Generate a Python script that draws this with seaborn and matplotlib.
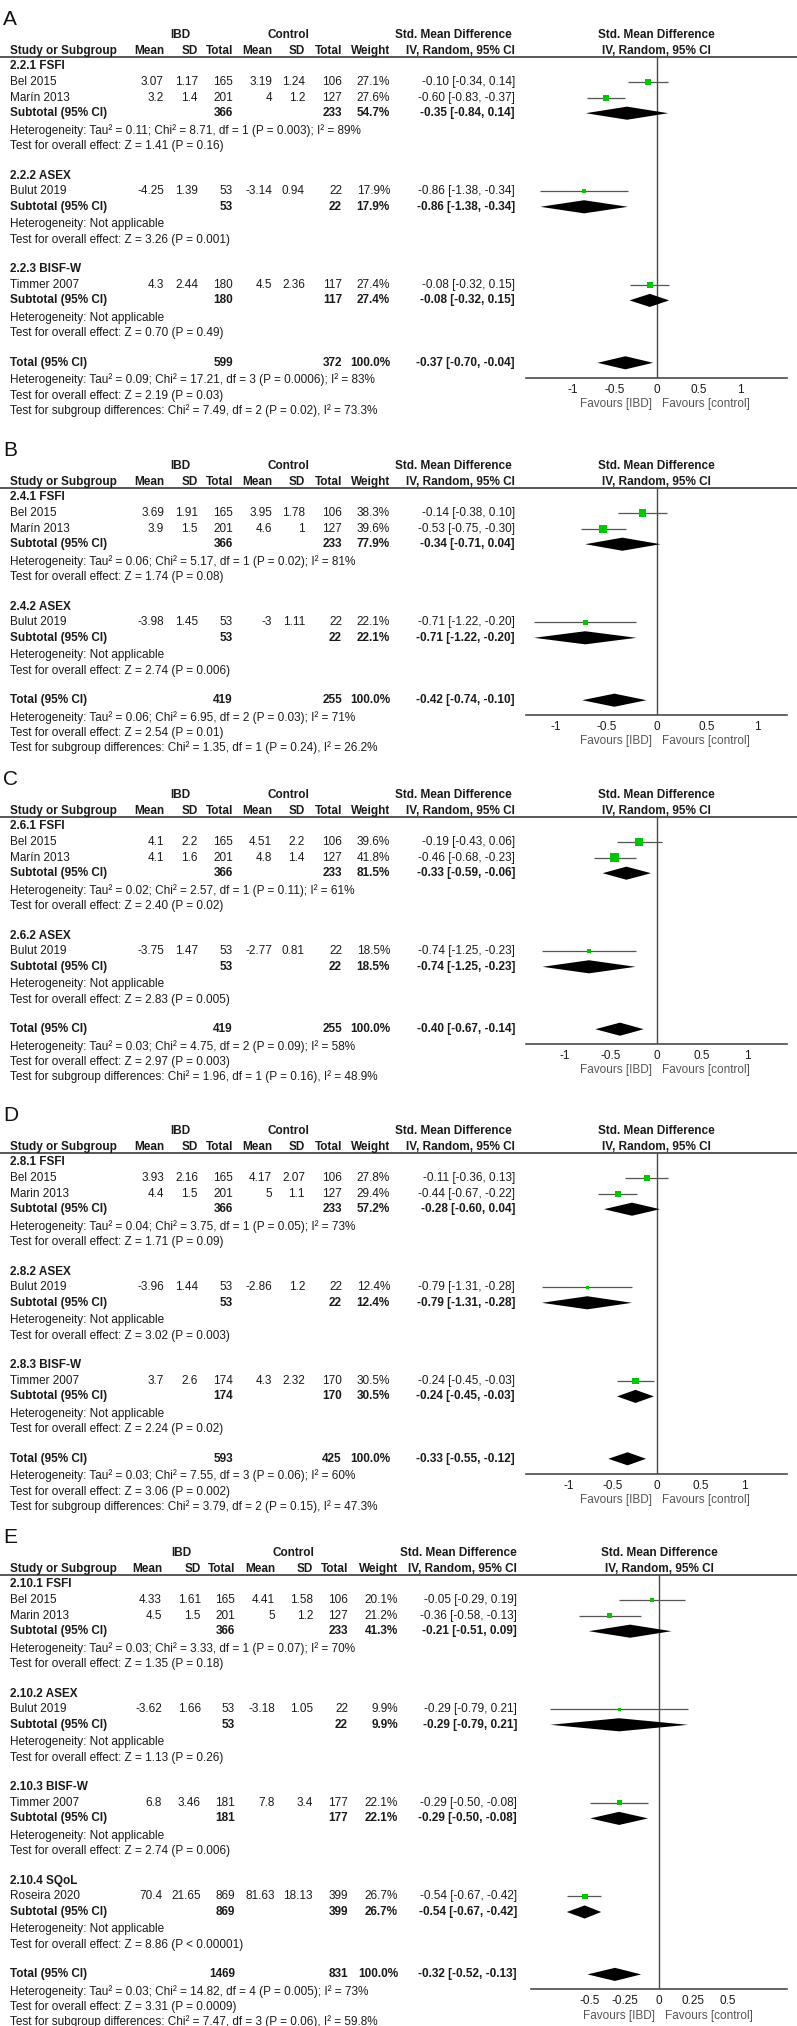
import matplotlib
matplotlib.use("Agg")
import matplotlib.pyplot as plt
import seaborn as sns
import pandas as pd

NA = "Not applicable"

# ---------------- Panel A (2.2) ----------------
a_groups = ["2.2.1 FSFI", "2.2.2 ASEX", "2.2.3 BISF-W"]
a_studies = ["Bel 2015", "Marín 2013", "Bulut 2019", "Timmer 2007"]
a_study_group = [0, 0, 1, 2]
a_ibd_mean = [3.07, 3.2, -4.25, 4.3]
a_ibd_sd = [1.17, 1.4, 1.39, 2.44]
a_ibd_n = [165, 201, 53, 180]
a_ctl_mean = [3.19, 4, -3.14, 4.5]
a_ctl_sd = [1.24, 1.2, 0.94, 2.36]
a_ctl_n = [106, 127, 22, 117]
a_weight = [27.1, 27.6, 17.9, 27.4]
a_smd = [-0.10, -0.60, -0.86, -0.08]
a_lo = [-0.34, -0.83, -1.38, -0.32]
a_hi = [0.14, -0.37, -0.34, 0.15]
a_sub_ibd_n = [366, 53, 180]
a_sub_ctl_n = [233, 22, 117]
a_sub_weight = [54.7, 17.9, 27.4]
a_sub_smd = [-0.35, -0.86, -0.08]
a_sub_lo = [-0.84, -1.38, -0.32]
a_sub_hi = [0.14, -0.34, 0.15]
a_sub_het = ["Tau² = 0.11; Chi² = 8.71, df = 1 (P = 0.003); I² = 89%", NA, NA]
a_sub_z = ["Z = 1.41 (P = 0.16)", "Z = 3.26 (P = 0.001)", "Z = 0.70 (P = 0.49)"]
a_total_n = [599, 372]
a_total_est = [-0.37, -0.70, -0.04]
a_total_het = "Tau² = 0.09; Chi² = 17.21, df = 3 (P = 0.0006); I² = 83%"
a_total_z = "Z = 2.19 (P = 0.03)"
a_subgroup_diff = "Chi² = 7.49, df = 2 (P = 0.02), I² = 73.3%"

# ---------------- Panel B (2.4) ----------------
b_groups = ["2.4.1 FSFI", "2.4.2 ASEX"]
b_studies = ["Bel 2015", "Marín 2013", "Bulut 2019"]
b_study_group = [0, 0, 1]
b_ibd_mean = [3.69, 3.9, -3.98]
b_ibd_sd = [1.91, 1.5, 1.45]
b_ibd_n = [165, 201, 53]
b_ctl_mean = [3.95, 4.6, -3]
b_ctl_sd = [1.78, 1, 1.11]
b_ctl_n = [106, 127, 22]
b_weight = [38.3, 39.6, 22.1]
b_smd = [-0.14, -0.53, -0.71]
b_lo = [-0.38, -0.75, -1.22]
b_hi = [0.10, -0.30, -0.20]
b_sub_ibd_n = [366, 53]
b_sub_ctl_n = [233, 22]
b_sub_weight = [77.9, 22.1]
b_sub_smd = [-0.34, -0.71]
b_sub_lo = [-0.71, -1.22]
b_sub_hi = [0.04, -0.20]
b_sub_het = ["Tau² = 0.06; Chi² = 5.17, df = 1 (P = 0.02); I² = 81%", NA]
b_sub_z = ["Z = 1.74 (P = 0.08)", "Z = 2.74 (P = 0.006)"]
b_total_n = [419, 255]
b_total_est = [-0.42, -0.74, -0.10]
b_total_het = "Tau² = 0.06; Chi² = 6.95, df = 2 (P = 0.03); I² = 71%"
b_total_z = "Z = 2.54 (P = 0.01)"
b_subgroup_diff = "Chi² = 1.35, df = 1 (P = 0.24), I² = 26.2%"

# ---------------- Panel C (2.6) ----------------
c_groups = ["2.6.1 FSFI", "2.6.2 ASEX"]
c_studies = ["Bel 2015", "Marín 2013", "Bulut 2019"]
c_study_group = [0, 0, 1]
c_ibd_mean = [4.1, 4.1, -3.75]
c_ibd_sd = [2.2, 1.6, 1.47]
c_ibd_n = [165, 201, 53]
c_ctl_mean = [4.51, 4.8, -2.77]
c_ctl_sd = [2.2, 1.4, 0.81]
c_ctl_n = [106, 127, 22]
c_weight = [39.6, 41.8, 18.5]
c_smd = [-0.19, -0.46, -0.74]
c_lo = [-0.43, -0.68, -1.25]
c_hi = [0.06, -0.23, -0.23]
c_sub_ibd_n = [366, 53]
c_sub_ctl_n = [233, 22]
c_sub_weight = [81.5, 18.5]
c_sub_smd = [-0.33, -0.74]
c_sub_lo = [-0.59, -1.25]
c_sub_hi = [-0.06, -0.23]
c_sub_het = ["Tau² = 0.02; Chi² = 2.57, df = 1 (P = 0.11); I² = 61%", NA]
c_sub_z = ["Z = 2.40 (P = 0.02)", "Z = 2.83 (P = 0.005)"]
c_total_n = [419, 255]
c_total_est = [-0.40, -0.67, -0.14]
c_total_het = "Tau² = 0.03; Chi² = 4.75, df = 2 (P = 0.09); I² = 58%"
c_total_z = "Z = 2.97 (P = 0.003)"
c_subgroup_diff = "Chi² = 1.96, df = 1 (P = 0.16), I² = 48.9%"

# ---------------- Panel D (2.8) ----------------
d_groups = ["2.8.1 FSFI", "2.8.2 ASEX", "2.8.3 BISF-W"]
d_studies = ["Bel 2015", "Marin 2013", "Bulut 2019", "Timmer 2007"]
d_study_group = [0, 0, 1, 2]
d_ibd_mean = [3.93, 4.4, -3.96, 3.7]
d_ibd_sd = [2.16, 1.5, 1.44, 2.6]
d_ibd_n = [165, 201, 53, 174]
d_ctl_mean = [4.17, 5, -2.86, 4.3]
d_ctl_sd = [2.07, 1.1, 1.2, 2.32]
d_ctl_n = [106, 127, 22, 170]
d_weight = [27.8, 29.4, 12.4, 30.5]
d_smd = [-0.11, -0.44, -0.79, -0.24]
d_lo = [-0.36, -0.67, -1.31, -0.45]
d_hi = [0.13, -0.22, -0.28, -0.03]
d_sub_ibd_n = [366, 53, 174]
d_sub_ctl_n = [233, 22, 170]
d_sub_weight = [57.2, 12.4, 30.5]
d_sub_smd = [-0.28, -0.79, -0.24]
d_sub_lo = [-0.60, -1.31, -0.45]
d_sub_hi = [0.04, -0.28, -0.03]
d_sub_het = ["Tau² = 0.04; Chi² = 3.75, df = 1 (P = 0.05); I² = 73%", NA, NA]
d_sub_z = ["Z = 1.71 (P = 0.09)", "Z = 3.02 (P = 0.003)", "Z = 2.24 (P = 0.02)"]
d_total_n = [593, 425]
d_total_est = [-0.33, -0.55, -0.12]
d_total_het = "Tau² = 0.03; Chi² = 7.55, df = 3 (P = 0.06); I² = 60%"
d_total_z = "Z = 3.06 (P = 0.002)"
d_subgroup_diff = "Chi² = 3.79, df = 2 (P = 0.15), I² = 47.3%"

# ---------------- Panel E (2.10) ----------------
e_groups = ["2.10.1 FSFI", "2.10.2 ASEX", "2.10.3 BISF-W", "2.10.4 SQoL"]
e_studies = ["Bel 2015", "Marin 2013", "Bulut 2019", "Timmer 2007", "Roseira 2020"]
e_study_group = [0, 0, 1, 2, 3]
e_ibd_mean = [4.33, 4.5, -3.62, 6.8, 70.4]
e_ibd_sd = [1.61, 1.5, 1.66, 3.46, 21.65]
e_ibd_n = [165, 201, 53, 181, 869]
e_ctl_mean = [4.41, 5, -3.18, 7.8, 81.63]
e_ctl_sd = [1.58, 1.2, 1.05, 3.4, 18.13]
e_ctl_n = [106, 127, 22, 177, 399]
e_weight = [20.1, 21.2, 9.9, 22.1, 26.7]
e_smd = [-0.05, -0.36, -0.29, -0.29, -0.54]
e_lo = [-0.29, -0.58, -0.79, -0.50, -0.67]
e_hi = [0.19, -0.13, 0.21, -0.08, -0.42]
e_sub_ibd_n = [366, 53, 181, 869]
e_sub_ctl_n = [233, 22, 177, 399]
e_sub_weight = [41.3, 9.9, 22.1, 26.7]
e_sub_smd = [-0.21, -0.29, -0.29, -0.54]
e_sub_lo = [-0.51, -0.79, -0.50, -0.67]
e_sub_hi = [0.09, 0.21, -0.08, -0.42]
e_sub_het = ["Tau² = 0.03; Chi² = 3.33, df = 1 (P = 0.07); I² = 70%", NA, NA, NA]
e_sub_z = ["Z = 1.35 (P = 0.18)", "Z = 1.13 (P = 0.26)", "Z = 2.74 (P = 0.006)",
           "Z = 8.86 (P < 0.00001)"]
e_total_n = [1469, 831]
e_total_est = [-0.32, -0.52, -0.13]
e_total_het = "Tau² = 0.03; Chi² = 14.82, df = 4 (P = 0.005); I² = 73%"
e_total_z = "Z = 3.31 (P = 0.0009)"
e_subgroup_diff = "Chi² = 7.47, df = 3 (P = 0.06), I² = 59.8%"

ticks_wide = [-1, -0.5, 0, 0.5, 1]
ticks_wide_labels = ["-1", "-0.5", "0", "0.5", "1"]
ticks_narrow = [-0.5, -0.25, 0, 0.25, 0.5]
ticks_narrow_labels = ["-0.5", "-0.25", "0", "0.25", "0.5"]

# ---------------- layout / style ----------------
W, H = 797, 2026
RH = 15.6            # row height in px
FS = 8.5
TXT = "#1a1a1a"
LINE = "#4a4a4a"
GREEN = "#00c800"
RIGHT_PX = 787
COLS_AD = [164, 198, 233, 272, 305, 342, 390, 515]
HEADS_AD = [180, 288, 453]
COLS_E = [162, 201, 235, 275, 313, 348, 398, 517]
HEADS_E = [181, 293, 458]

sns.set_theme(style="white")
plt.rcParams["font.family"] = ["Liberation Sans", "DejaVu Sans"]


def fmt(v):
    return f"{v:g}"


def ci(est, lo, hi):
    return f"{est:.2f} [{lo:.2f}, {hi:.2f}]"


def pack(prefix):
    g = globals()
    keys = ["groups", "studies", "study_group", "ibd_mean", "ibd_sd", "ibd_n", "ctl_mean",
            "ctl_sd", "ctl_n", "weight", "smd", "lo", "hi", "sub_ibd_n", "sub_ctl_n",
            "sub_weight", "sub_smd", "sub_lo", "sub_hi", "sub_het", "sub_z", "total_n",
            "total_est", "total_het", "total_z", "subgroup_diff"]
    return {k: g[prefix + "_" + k] for k in keys}


def draw_panel(fig, ax0, label, p, top, cols, heads, left_px, xmax, ticks, ticklabels):
    def y(r):
        return top + r * RH

    reg = dict(fontsize=FS, color=TXT, va="center")
    bold = dict(fontsize=FS, color=TXT, va="center", fontweight="bold")

    ax0.text(3, y(-4), label, fontsize=15, color="#111111", va="center", ha="left")
    zero_px = (left_px + RIGHT_PX) / 2

    # headers
    ax0.text(heads[0], y(-3), "IBD", ha="center", **bold)
    ax0.text(heads[1], y(-3), "Control", ha="center", **bold)
    ax0.text(heads[2], y(-3), "Std. Mean Difference", ha="center", **bold)
    ax0.text(zero_px, y(-3), "Std. Mean Difference", ha="center", **bold)
    ax0.text(10, y(-2), "Study or Subgroup", ha="left", **bold)
    for x, t in zip(cols, ["Mean", "SD", "Total", "Mean", "SD", "Total", "Weight",
                           "IV, Random, 95% CI"]):
        ax0.text(x, y(-2), t, ha="right", **bold)
    ax0.text(zero_px, y(-2), "IV, Random, 95% CI", ha="center", **bold)
    ax0.hlines(y(-1.6), 0, W, color=LINE, lw=1.3)

    study_rows, sub_rows = [], []
    r = -1
    for gi, gname in enumerate(p["groups"]):
        ax0.text(10, y(r), gname, ha="left", **bold)
        r += 1
        for si, sg in enumerate(p["study_group"]):
            if sg != gi:
                continue
            vals = [fmt(p["ibd_mean"][si]), fmt(p["ibd_sd"][si]), str(p["ibd_n"][si]),
                    fmt(p["ctl_mean"][si]), fmt(p["ctl_sd"][si]), str(p["ctl_n"][si]),
                    f"{p['weight'][si]:.1f}%", ci(p["smd"][si], p["lo"][si], p["hi"][si])]
            ax0.text(10, y(r), p["studies"][si], ha="left", **reg)
            for x, t in zip(cols, vals):
                ax0.text(x, y(r), t, ha="right", **reg)
            study_rows.append(r)
            r += 1
        ax0.text(10, y(r), "Subtotal (95% CI)", ha="left", **bold)
        ax0.text(cols[2], y(r), str(p["sub_ibd_n"][gi]), ha="right", **bold)
        ax0.text(cols[5], y(r), str(p["sub_ctl_n"][gi]), ha="right", **bold)
        ax0.text(cols[6], y(r), f"{p['sub_weight'][gi]:.1f}%", ha="right", **bold)
        ax0.text(cols[7], y(r), ci(p["sub_smd"][gi], p["sub_lo"][gi], p["sub_hi"][gi]),
                 ha="right", **bold)
        sub_rows.append(r)
        r += 1
        ax0.text(10, y(r + 0.1), "Heterogeneity: " + p["sub_het"][gi], ha="left", **reg)
        r += 1
        ax0.text(10, y(r + 0.1), "Test for overall effect: " + p["sub_z"][gi], ha="left", **reg)
        r += 2

    total_row = r
    te = p["total_est"]
    ax0.text(10, y(r), "Total (95% CI)", ha="left", **bold)
    ax0.text(cols[2], y(r), str(p["total_n"][0]), ha="right", **bold)
    ax0.text(cols[5], y(r), str(p["total_n"][1]), ha="right", **bold)
    ax0.text(cols[6], y(r), "100.0%", ha="right", **bold)
    ax0.text(cols[7], y(r), ci(*te), ha="right", **bold)
    ax0.text(10, y(r + 1.1), "Heterogeneity: " + p["total_het"], ha="left", **reg)
    ax0.text(10, y(r + 2.1), "Test for overall effect: " + p["total_z"], ha="left", **reg)
    ax0.text(10, y(r + 3.05), "Test for subgroup differences: " + p["subgroup_diff"],
             ha="left", **reg)

    # forest plot axes
    axis_row = total_row + 0.95
    top_row = -1.6
    fa = fig.add_axes([left_px / W, 1 - y(axis_row) / H, (RIGHT_PX - left_px) / W,
                       (axis_row - top_row) * RH / H])
    fa.patch.set_visible(False)

    studies_df = pd.DataFrame({"smd": p["smd"], "lo": p["lo"], "hi": p["hi"],
                               "weight": p["weight"], "row": study_rows})
    fa.hlines(studies_df["row"], studies_df["lo"], studies_df["hi"], color="#555555", lw=0.9,
              zorder=2)
    side_pt = (1.2 + 0.17 * studies_df["weight"]) * 0.72
    sns.scatterplot(data=studies_df, x="smd", y="row", marker="s", s=side_pt ** 2,
                    color=GREEN, edgecolor="none", linewidth=0, legend=False, ax=fa, zorder=3)

    dia = pd.DataFrame({"est": p["sub_smd"] + [te[0]], "lo": p["sub_lo"] + [te[1]],
                        "hi": p["sub_hi"] + [te[2]], "row": sub_rows + [total_row]})
    for _, d in dia.iterrows():
        fa.fill([d["lo"], d["est"], d["hi"], d["est"]],
                [d["row"], d["row"] - 0.42, d["row"], d["row"] + 0.42],
                color="black", lw=0, zorder=3)

    fa.axvline(0, color=LINE, lw=1.0, zorder=1)
    fa.set_xlim(-xmax, xmax)
    fa.set_ylim(axis_row, top_row)
    fa.set_xlabel("")
    fa.set_ylabel("")
    fa.set_yticks([])
    fa.set_xticks(ticks)
    fa.set_xticklabels(ticklabels)
    for s in ["top", "left", "right"]:
        fa.spines[s].set_visible(False)
    fa.spines["bottom"].set_color(LINE)
    fa.spines["bottom"].set_linewidth(1.2)
    fa.tick_params(axis="x", direction="inout", length=7, width=1.0, color=LINE,
                   labelsize=FS, labelcolor=TXT, pad=1)
    fa.annotate("Favours [IBD]", xy=(0, 0), xycoords=("data", "axes fraction"),
                xytext=(-3, -19), textcoords="offset points", ha="right", va="center",
                fontsize=FS, color="#555555")
    fa.annotate("Favours [control]", xy=(0, 0), xycoords=("data", "axes fraction"),
                xytext=(4, -19), textcoords="offset points", ha="left", va="center",
                fontsize=FS, color="#555555")


fig = plt.figure(figsize=(W / 100, H / 100), dpi=100)
ax0 = fig.add_axes([0, 0, 1, 1])
ax0.set_xlim(0, W)
ax0.set_ylim(H, 0)
ax0.axis("off")

panels = [
    ("A", pack("a"), 82, COLS_AD, HEADS_AD, 526, 1.55, ticks_wide, ticks_wide_labels),
    ("B", pack("b"), 513, COLS_AD, HEADS_AD, 526, 1.30, ticks_wide, ticks_wide_labels),
    ("C", pack("c"), 842, COLS_AD, HEADS_AD, 526, 1.43, ticks_wide, ticks_wide_labels),
    ("D", pack("d"), 1178, COLS_AD, HEADS_AD, 526, 1.49, ticks_wide, ticks_wide_labels),
    ("E", pack("e"), 1600, COLS_E, HEADS_E, 531, 0.93, ticks_narrow, ticks_narrow_labels),
]
for args in panels:
    draw_panel(fig, ax0, *args)

fig.savefig("out.png", dpi=100, facecolor="white")
